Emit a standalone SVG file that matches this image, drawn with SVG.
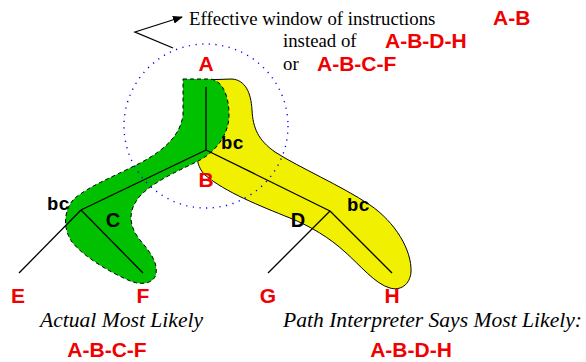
<svg xmlns="http://www.w3.org/2000/svg" width="586" height="362" viewBox="0 0 586 362">
<style>
.lbl{font-family:"Liberation Sans",Arial,sans-serif;font-weight:bold;font-size:21px;fill:#f00000}
.blk{font-family:"Liberation Sans",Arial,sans-serif;font-weight:bold;font-size:20px;fill:#000}
.bc{font-family:"Liberation Mono","Courier New",monospace;font-weight:bold;font-size:19px;fill:#000}
.tm{font-family:"Liberation Serif","Times New Roman",serif;font-size:18.8px;fill:#000}
.it{font-family:"Liberation Serif","Times New Roman",serif;font-style:italic;font-size:21.6px;fill:#000}
.edge{stroke:#000;stroke-width:1.3;fill:none}
</style>
<defs>
<marker id="ah" markerWidth="10" markerHeight="8" refX="9" refY="4" orient="auto" markerUnits="userSpaceOnUse">
<path d="M0,0 L10,4 L0,8 Z" fill="#000"/>
</marker>
</defs>
<rect width="586" height="362" fill="#fff"/>
<g id="path-yellow">
<path d="M200,80 L232,79 C245,80 251,92 252,110 C253,128 258,140 275,152 C300,168 340,185 370,205 C395,222 412,250 411,272 C410,285 400,291 390,288 C375,284 360,265 345,252 C330,238 310,226 290,218 C260,206 225,192 205,175 C195,165 195,150 200,130 Z" fill="#f0f000" stroke="#000" stroke-width="1"/>
</g>
<g id="path-green">
<path d="M183,79 L210,79 C222,80 229,95 229,115 C229,135 215,152 200,160 C185,168 155,180 140,196 C128,210 128,225 140,240 C150,252 158,262 156,274 C154,284 140,286 128,280 C110,272 85,258 72,242 C62,228 64,208 75,198 C90,186 110,178 130,168 C160,154 180,138 183,115 Z" fill="#00c000" stroke="#000" stroke-width="1" stroke-dasharray="4 3"/>
</g>
<g id="window">
<circle cx="206" cy="126" r="82" fill="none" stroke="#0000ff" stroke-width="1.4" stroke-dasharray="1.2 5.5"/>
</g>
<g id="connectors">
<path class="edge" d="M206,87 L206,150"/>
<path class="edge" d="M206,150 L81,210"/>
<path class="edge" d="M81,210 L19,273"/>
<path class="edge" d="M81,210 L143,273"/>
<path class="edge" d="M206,150 L330,211"/>
<path class="edge" d="M330,211 L268,273"/>
<path class="edge" d="M330,211 L392,273"/>
<path class="edge" d="M173,48 L135,32 L182,17" marker-end="url(#ah)"/>
</g>
<g id="node-A"><text class="lbl" x="206" y="71" text-anchor="middle">A</text></g>
<g id="node-B"><text class="lbl" x="206" y="187" text-anchor="middle">B</text><text class="bc" x="221" y="149">bc</text></g>
<g id="node-C"><text class="blk" x="113" y="227" text-anchor="middle">C</text><text class="bc" x="47" y="210">bc</text></g>
<g id="node-D"><text class="blk" x="298" y="227" text-anchor="middle">D</text><text class="bc" x="347" y="211">bc</text></g>
<g id="node-E"><text class="lbl" x="18" y="303" text-anchor="middle">E</text></g>
<g id="node-F"><text class="lbl" x="143" y="303" text-anchor="middle">F</text></g>
<g id="node-G"><text class="lbl" x="268" y="303" text-anchor="middle">G</text></g>
<g id="node-H"><text class="lbl" x="392" y="303" text-anchor="middle">H</text></g>
<g id="caption-top">
<text class="tm" x="189" y="25">Effective window of instructions</text>
<text class="lbl" x="493" y="25">A-B</text>
<text class="tm" x="283" y="47">instead of</text>
<text class="lbl" x="385" y="48">A-B-D-H</text>
<text class="tm" x="283" y="70">or</text>
<text class="lbl" x="317" y="71">A-B-C-F</text>
</g>
<g id="caption-bottom">
<text class="it" x="40" y="327">Actual Most Likely</text>
<text class="lbl" x="107" y="357" text-anchor="middle">A-B-C-F</text>
<text class="it" x="283" y="327">Path Interpreter Says Most Likely:</text>
<text class="lbl" x="411" y="357" text-anchor="middle">A-B-D-H</text>
</g>
</svg>
